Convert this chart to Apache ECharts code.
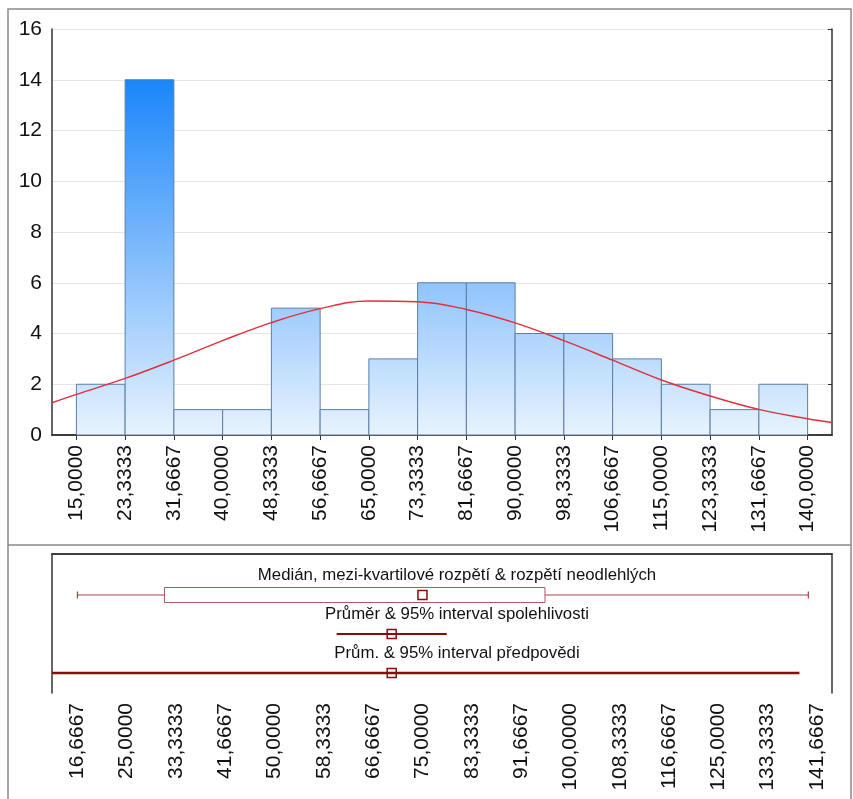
<!DOCTYPE html>
<html>
<head>
<meta charset="utf-8">
<script src="https://cdn.jsdelivr.net/npm/echarts@6/dist/echarts.min.js"></script>
<style>
  html, body { margin: 0; padding: 0; background: #fff; }
  #chart { width: 853px; height: 799px; }
</style>
</head>
<body>
<div id="chart"></div>
<script>
// histogram bins (edges) and counts
var binEdges = [15, 23.3333, 31.6667, 40, 48.3333, 56.6667, 65, 73.3333, 81.6667, 90, 98.3333, 106.6667, 115, 123.3333, 131.6667, 140]
var counts = [2, 14, 1, 1, 5, 1, 3, 6, 6, 4, 4, 3, 2, 1, 2]

// fitted normal curve
var curveX = [10.8333, 15, 23.3333, 31.6667, 40, 48.3333, 56.6667, 65, 73.3333, 81.6667, 90, 98.3333, 106.6667, 115, 123.3333, 131.6667, 140, 144.1667]
var curveY = [1.27, 1.6, 2.23, 2.95, 3.72, 4.43, 4.98, 5.28, 5.25, 4.95, 4.42, 3.72, 2.95, 2.17, 1.54, 1.01, 0.64, 0.49]

// lower panel tick labels
var lowerTicks = [16.6667, 25, 33.3333, 41.6667, 50, 58.3333, 66.6667, 75, 83.3333, 91.6667, 100, 108.3333, 116.6667, 125, 133.3333, 141.6667]

// min, q1, median, q3, max
var boxStats = [16.7, 31.4, 75.0, 95.7, 140.2]
// low, mean, high
var meanCI = [60.5, 69.8, 79.1]
var meanPI = [0.9, 69.8, 138.7]

var rowLabels = [
  'Medián, mezi-kvartilové rozpětí & rozpětí neodlehlých',
  'Průměr & 95% interval spolehlivosti',
  'Prům. & 95% interval předpovědi'
]

var font = 'Liberation Sans, Arial, sans-serif'
var dark = '#8b0a0a'

function fmt (v) {
  return v.toFixed(4).replace('.', ',')
}

var bins = counts.map(function (c, i) { return [binEdges[i], binEdges[i + 1], c] })

var barFill = new echarts.graphic.LinearGradient(0, 80, 0, 435, [
  { offset: 0, color: '#1a86fa' },
  { offset: 1, color: '#e8f3fe' }
], true)

var labelFont = '16.8px ' + font

var myChart = echarts.init(document.getElementById('chart'))
myChart.setOption({
  animation: false,
  textStyle: { fontFamily: font },
  grid: [
    { left: 52, right: 21, top: 29, height: 406 },
    { left: 52, right: 21, top: 554, height: 139 }
  ],
  graphic: [
    { type: 'rect', shape: { x: 8, y: 9, width: 843, height: 800 }, style: { fill: 'none', stroke: '#8a8a8a', lineWidth: 1.5 } },
    { type: 'line', shape: { x1: 8, y1: 545, x2: 851, y2: 545 }, style: { stroke: '#8a8a8a', lineWidth: 1.5 } },
    { type: 'text', x: 457, y: 575, style: { text: rowLabels[0], font: labelFont, fill: '#111', align: 'center', verticalAlign: 'middle' } },
    { type: 'text', x: 457, y: 614, style: { text: rowLabels[1], font: labelFont, fill: '#111', align: 'center', verticalAlign: 'middle' } },
    { type: 'text', x: 457, y: 653, style: { text: rowLabels[2], font: labelFont, fill: '#111', align: 'center', verticalAlign: 'middle' } }
  ],
  xAxis: [
    {
      gridIndex: 0,
      type: 'value',
      min: 10.8333,
      max: 144.1667,
      axisLine: { lineStyle: { color: '#333', width: 1.5 } },
      axisTick: { show: true, length: 5, customValues: binEdges, lineStyle: { color: '#333' } },
      axisLabel: { customValues: binEdges, rotate: 90, fontSize: 21, color: '#111', margin: 10, formatter: fmt },
      splitLine: { show: false }
    },
    {
      gridIndex: 0,
      type: 'value',
      position: 'top',
      min: 10.8333,
      max: 144.1667,
      axisLine: { lineStyle: { color: '#333', width: 1.5 } },
      axisTick: { show: true, inside: true, length: 4, customValues: binEdges, lineStyle: { color: '#333' } },
      axisLabel: { show: false },
      splitLine: { show: false }
    },
    {
      gridIndex: 1,
      type: 'value',
      min: 12.4,
      max: 144.2,
      axisLine: { lineStyle: { color: '#333', width: 1.5 } },
      axisTick: { show: false },
      axisLabel: { customValues: lowerTicks, rotate: 90, fontSize: 21, color: '#111', margin: 10, formatter: fmt },
      splitLine: { show: false }
    },
    {
      gridIndex: 1,
      type: 'value',
      position: 'top',
      min: 12.4,
      max: 144.2,
      axisLine: { lineStyle: { color: '#333', width: 1.5 } },
      axisTick: { show: false },
      axisLabel: { show: false },
      splitLine: { show: false }
    }
  ],
  yAxis: [
    {
      gridIndex: 0,
      type: 'value',
      min: 0,
      max: 16,
      interval: 2,
      axisLine: { show: true, lineStyle: { color: '#333', width: 1.5 } },
      axisTick: { show: false },
      axisLabel: { fontSize: 21, color: '#111', margin: 10 },
      splitLine: { lineStyle: { color: '#e6e6e6' } }
    },
    {
      gridIndex: 0,
      type: 'value',
      position: 'right',
      min: 0,
      max: 16,
      interval: 2,
      axisLine: { show: true, lineStyle: { color: '#333', width: 1.5 } },
      axisTick: { show: true, inside: true, length: 4, lineStyle: { color: '#333' } },
      axisLabel: { show: false },
      splitLine: { show: false }
    },
    {
      gridIndex: 1,
      type: 'value',
      min: 0,
      max: 139,
      inverse: true,
      axisLine: { show: true, lineStyle: { color: '#333', width: 1.5 } },
      axisTick: { show: false },
      axisLabel: { show: false },
      splitLine: { show: false }
    },
    {
      gridIndex: 1,
      type: 'value',
      position: 'right',
      min: 0,
      max: 139,
      inverse: true,
      axisLine: { show: true, lineStyle: { color: '#333', width: 1.5 } },
      axisTick: { show: false },
      axisLabel: { show: false },
      splitLine: { show: false }
    }
  ],
  series: [
    {
      name: 'histogram',
      type: 'custom',
      xAxisIndex: 0,
      yAxisIndex: 0,
      data: bins,
      renderItem: function (params, api) {
        var p0 = api.coord([api.value(0), api.value(2)])
        var p1 = api.coord([api.value(1), 0])
        return {
          type: 'rect',
          shape: { x: p0[0], y: p0[1], width: p1[0] - p0[0], height: p1[1] - p0[1] },
          style: { fill: barFill, stroke: '#5b7ea8', lineWidth: 1 }
        }
      },
      z: 2
    },
    {
      name: 'normal',
      type: 'line',
      xAxisIndex: 0,
      yAxisIndex: 0,
      data: curveX.map(function (x, i) { return [x, curveY[i]] }),
      smooth: 0.4,
      symbol: 'none',
      lineStyle: { color: '#e0303e', width: 1.5 },
      z: 3
    },
    {
      name: 'box',
      type: 'custom',
      xAxisIndex: 2,
      yAxisIndex: 2,
      data: [boxStats],
      renderItem: function (params, api) {
        var y = api.coord([0, 41])[1]
        var xs = [0, 1, 2, 3, 4].map(function (i) { return api.coord([api.value(i), 41])[0] })
        var ws = { stroke: '#a8404c', lineWidth: 1.2 }
        return {
          type: 'group',
          children: [
            { type: 'line', shape: { x1: xs[0], y1: y, x2: xs[1], y2: y }, style: ws },
            { type: 'line', shape: { x1: xs[3], y1: y, x2: xs[4], y2: y }, style: ws },
            { type: 'line', shape: { x1: xs[0], y1: y - 3.5, x2: xs[0], y2: y + 3.5 }, style: ws },
            { type: 'line', shape: { x1: xs[4], y1: y - 3.5, x2: xs[4], y2: y + 3.5 }, style: ws },
            { type: 'rect', shape: { x: xs[1], y: y - 7.5, width: xs[3] - xs[1], height: 15 }, style: { fill: '#fff', stroke: '#a85a62', lineWidth: 1 } },
            { type: 'rect', shape: { x: xs[2] - 4.5, y: y - 4.5, width: 9, height: 9 }, style: { fill: '#fff', stroke: dark, lineWidth: 1.5 } }
          ]
        }
      }
    },
    {
      name: 'ci',
      type: 'custom',
      xAxisIndex: 2,
      yAxisIndex: 2,
      clip: true,
      data: [meanCI, meanPI],
      renderItem: function (params, api) {
        var row = params.dataIndex === 0 ? 80 : 119
        var lo = api.coord([api.value(0), row])
        var m = api.coord([api.value(1), row])
        var hi = api.coord([api.value(2), row])
        return {
          type: 'group',
          children: [
            { type: 'line', shape: { x1: lo[0], y1: lo[1], x2: hi[0], y2: hi[1] }, style: { stroke: dark, lineWidth: params.dataIndex === 0 ? 2 : 2.5 } },
            { type: 'rect', shape: { x: m[0] - 4.5, y: m[1] - 4.5, width: 9, height: 9 }, style: { fill: 'none', stroke: dark, lineWidth: 1.5 } }
          ]
        }
      }
    }
  ]
})
</script>
</body>
</html>
